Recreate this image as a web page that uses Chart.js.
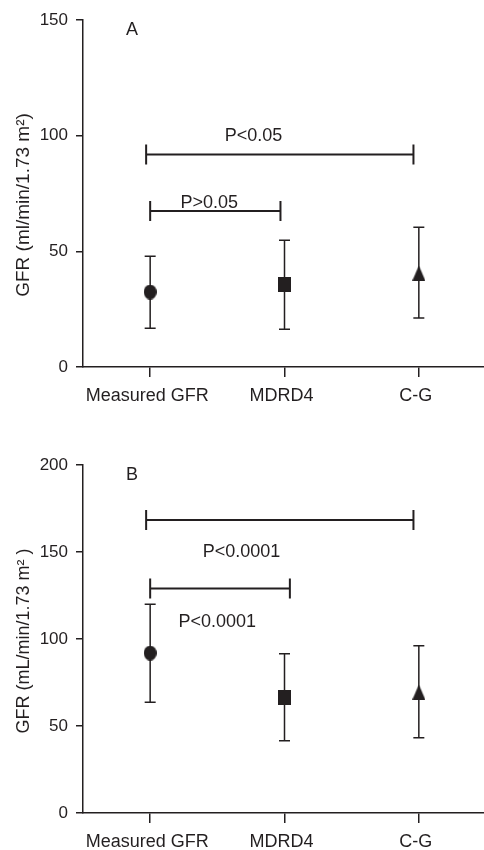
<!DOCTYPE html>
<html><head><meta charset="utf-8">
<script src="https://cdn.jsdelivr.net/npm/chart.js@4.4.1/dist/chart.umd.min.js"></script>
<style>
html,body{margin:0;padding:0;background:#fff;overflow:hidden;width:484px;height:850px;position:relative;}
canvas{position:absolute;left:0;display:block;}
#cA{top:0;} #cB{top:420px;}
</style></head><body>
<canvas id="cA" width="486" height="420" style="width:486px;height:420px"></canvas>
<canvas id="cB" width="486" height="430" style="width:486px;height:430px"></canvas>
<script>
// ---- data ----
const categories = ['Measured GFR', 'MDRD4', 'C-G'];
const yTicksA = [0, 50, 100, 150];
const yTicksB = [0, 50, 100, 150, 200];

const meanA  = [32.4, 35.7, 40.6];
const upperA = [47.9, 54.8, 60.4];
const lowerA = [16.7, 16.3, 21.2];

const meanB  = [91.9, 66.5, 69.5];
const upperB = [120.0, 91.5, 96.1];
const lowerB = [63.7, 41.5, 43.3];

const bracketFromA = [-0.03, 0.0];
const bracketToA   = [1.96, 0.97];
const bracketYA    = [91.9, 67.4];
const pTextA  = ['P<0.05', 'P>0.05'];
const pTextXA = [0.77, 0.44];
const pTextYA = [99.8, 70.9];

const bracketFromB = [-0.03, 0.0];
const bracketToB   = [1.96, 1.04];
const bracketYB    = [168.4, 129.0];
const pTextB  = ['P<0.0001', 'P<0.0001'];
const pTextXB = [0.68, 0.50];
const pTextYB = [150.2, 109.5];

const titleA = 'GFR (ml/min/1.73 m\u00B2)';
const titleB = 'GFR (mL/min/1.73 m\u00B2 )';

// ---- style ----
const INK = '#231f20';
const FONT = '"Liberation Sans", Arial, Helvetica, sans-serif';

function marker(shape) {
  const w = 13, h = 15;
  const c = document.createElement('canvas');
  c.width = w; c.height = h;
  const g = c.getContext('2d');
  g.fillStyle = INK;
  g.beginPath();
  if (shape === 'circle') { g.ellipse(w / 2, h / 2, w / 2, h / 2, 0, 0, Math.PI * 2); }
  else if (shape === 'rect') { g.rect(0, 0, w, h); }
  else { g.moveTo(w / 2, 0); g.lineTo(w, h); g.lineTo(0, h); g.closePath(); }
  g.fill();
  return c;
}
const markers = [marker('circle'), marker('rect'), marker('triangle')];

const annot = {
  id: 'annot',
  beforeDatasetsDraw(chart, args, o) {
    const { ctx } = chart;
    const x = chart.scales.x, y = chart.scales.y;
    ctx.save();
    ctx.strokeStyle = INK;
    ctx.lineCap = 'butt';
    // error bars
    ctx.lineWidth = 1.5;
    o.mean.forEach((m, i) => {
      const px = x.getPixelForValue(i);
      const hi = y.getPixelForValue(o.upper[i]);
      const lo = y.getPixelForValue(o.lower[i]);
      ctx.beginPath();
      ctx.moveTo(px, hi); ctx.lineTo(px, lo);
      ctx.moveTo(px - 5.5, hi); ctx.lineTo(px + 5.5, hi);
      ctx.moveTo(px - 5.5, lo); ctx.lineTo(px + 5.5, lo);
      ctx.stroke();
    });
    // significance brackets
    ctx.lineWidth = 2;
    o.bFrom.forEach((f, i) => {
      const x1 = x.getPixelForValue(f);
      const x2 = x.getPixelForValue(o.bTo[i]);
      const py = y.getPixelForValue(o.bY[i]);
      ctx.beginPath();
      ctx.moveTo(x1, py); ctx.lineTo(x2, py);
      ctx.moveTo(x1, py - 10); ctx.lineTo(x1, py + 10);
      ctx.moveTo(x2, py - 10); ctx.lineTo(x2, py + 10);
      ctx.stroke();
    });
    // texts
    ctx.fillStyle = INK;
    ctx.font = '18px ' + FONT;
    ctx.textAlign = 'center';
    ctx.textBaseline = 'middle';
    o.pText.forEach((t, i) => {
      ctx.fillText(t, x.getPixelForValue(o.pX[i]), y.getPixelForValue(o.pY[i]));
    });
    ctx.fillText(o.letter, o.letterPos[0], o.letterPos[1]);
    ctx.save();
    ctx.font = o.titleSize + 'px ' + FONT;
    ctx.translate(o.titlePos[0], o.titlePos[1]);
    ctx.rotate(-Math.PI / 2);
    ctx.fillText(o.title, 0, 0);
    ctx.restore();
    ctx.restore();
  }
};

function makeChart(id, cfg) {
  return new Chart(document.getElementById(id), {
    type: 'line',
    data: {
      labels: categories,
      datasets: [{
        data: cfg.mean,
        showLine: false,
        pointStyle: markers,
        pointRadius: 7,
        pointHoverRadius: 7,
        borderWidth: 0,
        backgroundColor: INK,
        borderColor: INK
      }]
    },
    options: {
      responsive: false,
      animation: false,
      devicePixelRatio: 1,
      events: [],
      layout: { autoPadding: false, padding: { top: cfg.top, right: 0, left: 0, bottom: 0 } },
      plugins: {
        legend: { display: false },
        tooltip: { enabled: false },
        annot: {
          mean: cfg.mean, upper: cfg.upper, lower: cfg.lower,
          bFrom: cfg.bFrom, bTo: cfg.bTo, bY: cfg.bY,
          pText: cfg.pText, pX: cfg.pX, pY: cfg.pY,
          letter: cfg.letter, letterPos: cfg.letterPos,
          title: cfg.title, titlePos: cfg.titlePos, titleSize: cfg.titleSize
        }
      },
      scales: {
        x: {
          type: 'category',
          offset: true,
          grid: { offset: false, drawOnChartArea: false, drawTicks: true, tickLength: 10, color: INK, lineWidth: 1.5 },
          border: { display: true, color: INK, width: 1.5 },
          ticks: { color: INK, font: { family: FONT, size: 18 }, padding: 8, labelOffset: -3, maxRotation: 0, autoSkip: false },
          afterFit: s => { s.height = cfg.xh; s.paddingLeft = 0; s.paddingRight = 0; }
        },
        y: {
          min: 0, max: cfg.max,
          grid: { drawOnChartArea: false, drawTicks: true, tickLength: 7, color: INK, lineWidth: 1.5 },
          border: { display: true, color: INK, width: 1.5 },
          ticks: { color: INK, font: { family: FONT, size: 17 }, padding: 8 },
          afterBuildTicks: s => { s.ticks = cfg.ticks.map(v => ({ value: v })); },
          afterFit: s => { s.width = 83; }
        }
      }
    },
    plugins: [annot]
  });
}

makeChart('cA', {
  mean: meanA, upper: upperA, lower: lowerA,
  bFrom: bracketFromA, bTo: bracketToA, bY: bracketYA,
  pText: pTextA, pX: pTextXA, pY: pTextYA,
  letter: 'A', letterPos: [132, 30.5],
  title: titleA, titlePos: [24, 205], titleSize: 19,
  ticks: yTicksA, max: 150, top: 20, xh: 53
});

makeChart('cB', {
  mean: meanB, upper: upperB, lower: lowerB,
  bFrom: bracketFromB, bTo: bracketToB, bY: bracketYB,
  pText: pTextB, pX: pTextXB, pY: pTextYB,
  letter: 'B', letterPos: [132, 55],
  title: titleB, titlePos: [24, 221], titleSize: 18,
  ticks: yTicksB, max: 200, top: 45, xh: 37
});
</script>
</body></html>
